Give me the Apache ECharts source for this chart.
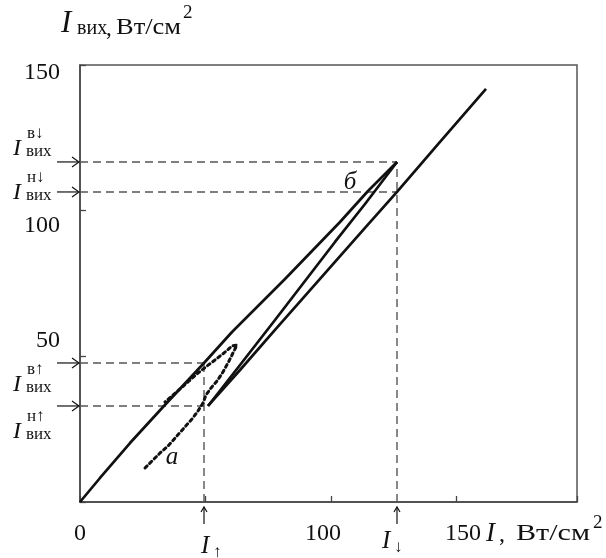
<!DOCTYPE html>
<html><head><meta charset="utf-8">
<script src="https://cdn.jsdelivr.net/npm/echarts@6/dist/echarts.min.js"></script>
<style>html,body{margin:0;padding:0;background:#fff}#c{width:606px;height:558px}</style>
</head><body><div id="c"></div>
<script>
// ---- data ----
const xLabelTicks = [0, 100, 150];
const yLabelTicks = [50, 100, 150];
// solid branches of loop "б"
const branchUpper = [[0,0],[7.97,8.24],[19.92,20.25],[33.07,32.61],[38.65,37.76],[49.40,47.72],[60.56,58.36],[70.92,67.28],[81.67,76.55],[92.43,86.17],[103.59,96.12],[114.74,106.76],[126.29,116.72]];
const branchMiddle = [[51.00,32.96],[63.75,47.03],[77.69,62.48],[89.64,75.87],[101.59,89.26],[113.55,102.30],[126.29,116.72]];
const branchLower = [[51.00,32.96],[63.75,45.31],[77.69,59.05],[89.64,70.72],[101.59,82.39],[113.55,94.06],[126.29,106.42],[143.43,123.58],[161.75,141.78]];
// dotted loop "a"
const loopA = [[25.90,11.67],[28.69,14.07],[31.87,16.82],[35.06,19.22],[38.25,22.31],[41.43,25.40],[44.62,28.49],[47.01,31.24],[49.00,33.99],[50.20,36.73],[52.19,39.13],[54.58,41.54],[56.97,44.63],[59.36,48.40],[61.35,51.84],[62.55,53.90],[60.56,53.55],[57.37,51.15],[53.78,48.75],[50.60,46.69],[47.01,44.28],[43.43,41.54],[39.84,38.79],[36.65,36.39],[33.86,34.33]];
// output levels and switching intensities
const levelValues = [116.72, 106.42, 47.72, 32.96];
const levelSup = ['в↓', 'н↓', 'в↑', 'н↑'];
const thresholdValues = [49.40, 126.29];
const thresholdSub = ['↑', '↓'];
const levelThreshold = [1, 1, 0, 0];
const loopLabels = [['a', 36.65, 15.45], ['б', 107.57, 109.85]];

// ---- layout ----
const serif = '"Liberation Serif","Times New Roman",serif';
const ink = '#111';
const solid = {color: ink, width: 2.7};
const dashed = {color: '#555', width: 1.4, type: [8, 5]};

const series = [
  {type: 'line', data: branchUpper, lineStyle: solid},
  {type: 'line', data: branchMiddle, lineStyle: solid},
  {type: 'line', data: branchLower, lineStyle: solid},
  {type: 'line', data: loopA, lineStyle: {color: ink, width: 3, type: [3, 3.5], cap: 'round'}}
];
levelValues.forEach((v, i) => {
  series.push({type: 'line', data: [[0, v], [thresholdValues[levelThreshold[i]], v]], lineStyle: dashed, z: 1});
});
thresholdValues.forEach((t, i) => {
  const top = i === 0 ? levelValues[2] : levelValues[0];
  series.push({type: 'line', data: [[t, 0], [t, top]], lineStyle: dashed, z: 1});
});
series.forEach(s => { s.symbol = 'none'; s.silent = true; s.animation = false; });

const labelFont = {fontFamily: serif, fontSize: 24, color: ink};
const option = {
  animation: false,
  grid: {left: 80, top: 65, right: 29, bottom: 56, containLabel: false, outerBoundsMode: 'none',
         show: true, borderColor: '#555', borderWidth: 1.5},
  xAxis: {
    type: 'value', min: 0, max: 198, interval: 50,
    axisLine: {show: true, lineStyle: {color: '#444', width: 1.5}},
    axisTick: {show: true, inside: true, length: 6, lineStyle: {color: '#444', width: 1.3}},
    splitLine: {show: false},
    axisLabel: Object.assign({margin: 20, showMaxLabel: true,
      formatter: v => v === 100 ? '{l|100}' : v === 150 ? '{r|150}' : (xLabelTicks.includes(v) ? String(v) : ''),
      rich: {l: {fontFamily: serif, fontSize: 24, color: ink, padding: [0, 16, 0, 0]},
             r: {fontFamily: serif, fontSize: 24, color: ink, padding: [0, 0, 0, 13]}}}, labelFont)
  },
  yAxis: {
    type: 'value', min: 0, max: 150, interval: 50,
    axisLine: {show: true, lineStyle: {color: '#444', width: 1.5}},
    axisTick: {show: true, inside: true, length: 6, lineStyle: {color: '#444', width: 1.3}},
    splitLine: {show: false},
    axisLabel: Object.assign({margin: 20,
      formatter: v => v === 150 ? '{a|150}' : v === 100 ? '{b|100}' : v === 50 ? '{c|50}' : '',
      rich: {a: {fontFamily: serif, fontSize: 24, color: ink, padding: [16, 0, 0, 0]},
             b: {fontFamily: serif, fontSize: 24, color: ink, padding: [30, 0, 0, 0]},
             c: {fontFamily: serif, fontSize: 24, color: ink, padding: [0, 0, 32, 0]}}}, labelFont)
  },
  series: series
};

const chart = echarts.init(document.getElementById('c'), null, {renderer: 'canvas'});
chart.setOption(option);

const mctx = document.createElement('canvas').getContext('2d');
function measure(t, size, italic) {
  mctx.font = (italic ? 'italic ' : '') + size + 'px ' + serif;
  return mctx.measureText(t).width;
}
const P = (x, y) => chart.convertToPixel({gridIndex: 0}, [x, y]);
const g = [];
function txt(x, y, t, size, italic, targetWidth) {
  const el = {type: 'text', x: x, y: y, silent: true, z: 100,
    style: {text: t, fontSize: size, fontFamily: serif, fontStyle: italic ? 'italic' : 'normal',
            fill: ink, align: 'left', verticalAlign: 'middle'}};
  if (targetWidth) el.scaleX = targetWidth / measure(t, size, italic);
  g.push(el);
}
function poly(pts, w) {
  g.push({type: 'polyline', silent: true, z: 100, shape: {points: pts},
    style: {stroke: ink, lineWidth: w || 1.2, fill: null}});
}
// title (y-axis name)
txt(61, 24, 'I', 31, true);
txt(77, 29, 'вих', 20, false);
txt(106, 29, ',', 23, false);
txt(116, 28, 'Вт/см', 24, false, 65);
txt(183, 13, '2', 19, false);
// x-axis name
txt(486, 534, 'I', 27, true);
txt(499, 535, ',', 24, false);
txt(516, 534, 'Вт/см', 24, false, 74);
txt(593, 523, '2', 19, false);

const origin = P(0, 0);
const ax = origin[0], ay = origin[1];
// left level arrows + labels
const labelShift = [-13, 1, 22, 26];
levelValues.forEach((v, i) => {
  const y = P(0, v)[1];
  poly([[ax - 23, y], [ax - 1, y]]);
  poly([[ax - 8, y - 5], [ax - 1, y], [ax - 8, y + 5]]);
  const yc = y + labelShift[i];
  txt(13, yc, 'I', 24, true);
  txt(26, yc + 3, 'вих', 17, false);
  txt(27, yc - 15, levelSup[i], 17, false);
});
// bottom threshold arrows + labels
const subShift = [[-3, 546], [-15, 541]];
thresholdValues.forEach((t, i) => {
  const x = P(t, 0)[0];
  poly([[x, ay + 22], [x, ay + 5]]);
  poly([[x - 3, ay + 10], [x, ay + 5], [x + 3, ay + 10]]);
  const lx = x + subShift[i][0], ly = subShift[i][1];
  txt(lx, ly, 'I', 25, true);
  txt(lx + 12, ly + 7, thresholdSub[i], 17, false);
});
// loop labels
loopLabels.forEach(l => {
  const p = P(l[1], l[2]);
  g.push({type: 'text', x: p[0], y: p[1], silent: true, z: 100,
    style: {text: l[0], fontSize: 25, fontFamily: serif, fontStyle: 'italic', fill: ink,
            align: 'center', verticalAlign: 'middle'}});
});
chart.setOption({graphic: g});
</script>
</body></html>
